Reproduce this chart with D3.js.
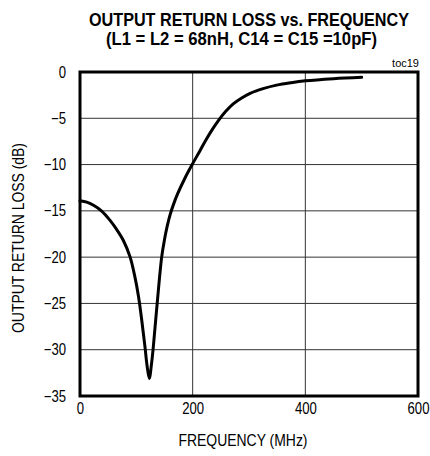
<!DOCTYPE html>
<html>
<head>
<meta charset="utf-8">
<script src="https://cdn.jsdelivr.net/npm/d3@7"></script>
<style>
  body { margin: 0; background: #fff; }
  text { font-family: 'Liberation Sans', Arial, sans-serif; fill: #000; }
</style>
</head>
<body>
<div id="chart"></div>
<script>
// Output return loss vs frequency
const freqMHz = [0, 12, 24, 38, 53, 65, 77, 89, 97, 104, 110, 115, 119, 123, 127, 130, 137, 145, 150, 155, 160, 166, 173, 186, 200, 213, 222, 235, 245, 258, 272, 287, 302, 325, 349, 375, 400, 450, 500];
const lossDb  = [-13.9, -14.05, -14.4, -15.0, -16.0, -17.0, -18.2, -20.0, -22.0, -24.3, -27.0, -29.5, -31.7, -33.1, -31.5, -29.8, -25.0, -20.0, -18.1, -16.6, -15.4, -14.3, -13.2, -11.5, -9.9, -8.5, -7.5, -6.2, -5.3, -4.3, -3.45, -2.8, -2.3, -1.8, -1.42, -1.15, -0.95, -0.72, -0.57];
const xTicks = [0, 200, 400, 600];
const yTicks = [0, -5, -10, -15, -20, -25, -30, -35];
const xGrid = [200, 400];

const W = 430, H = 456;
const margin = { top: 72, right: 12, bottom: 60, left: 80 };
const width = W - margin.left - margin.right;
const height = H - margin.top - margin.bottom;

// the reference uses a condensed face; squeeze regular glyphs instead
function narrow(sel, k = 0.82) {
    sel.each(function () {
        const len = this.getComputedTextLength();
        d3.select(this)
            .attr('textLength', len * k)
            .attr('lengthAdjust', 'spacingAndGlyphs');
    });
}

const svg = d3.select('#chart')
    .append('svg')
    .attr('width', W)
    .attr('height', H);

// titles
svg.append('text')
    .attr('x', 249).attr('y', 26)
    .attr('text-anchor', 'middle')
    .attr('font-size', 19).attr('font-weight', 'bold')
    .attr('textLength', 320).attr('lengthAdjust', 'spacingAndGlyphs')
    .text('OUTPUT RETURN LOSS vs. FREQUENCY');
svg.append('text')
    .attr('x', 241.5).attr('y', 45)
    .attr('text-anchor', 'middle')
    .attr('font-size', 18).attr('font-weight', 'bold')
    .attr('textLength', 271).attr('lengthAdjust', 'spacingAndGlyphs')
    .text('(L1 = L2 = 68nH, C14 = C15 =10pF)');

svg.append('text')
    .attr('x', 419).attr('y', 67)
    .attr('text-anchor', 'end')
    .attr('font-size', 11)
    .text('toc19');

const g = svg.append('g')
    .attr('transform', `translate(${margin.left}, ${margin.top})`);

const x = d3.scaleLinear().domain([0, 600]).range([0, width]);
const y = d3.scaleLinear().domain([-35, 0]).range([height, 0]);

// grid
g.selectAll('.hgrid')
    .data(yTicks.slice(1, -1))
    .enter().append('line')
    .attr('x1', 0).attr('x2', width)
    .attr('y1', d => y(d)).attr('y2', d => y(d))
    .attr('stroke', '#333').attr('stroke-width', 1);

g.selectAll('.vgrid')
    .data(xGrid)
    .enter().append('line')
    .attr('x1', d => x(d)).attr('x2', d => x(d))
    .attr('y1', 0).attr('y2', height)
    .attr('stroke', '#333').attr('stroke-width', 1);

// axes (labels only, frame drawn separately)
const xAxis = g.append('g')
    .attr('transform', `translate(0, ${height})`)
    .call(d3.axisBottom(x).tickValues(xTicks).tickSize(0).tickPadding(7));
const yAxis = g.append('g')
    .call(d3.axisLeft(y).tickValues(yTicks).tickSize(0).tickPadding(14));
[xAxis, yAxis].forEach(a => {
    a.select('.domain').remove();
    a.selectAll('text')
        .attr('font-size', 16).attr('fill', '#000')
        .style('font-family', "'Liberation Sans', Arial, sans-serif")
        .call(narrow);
});

// curve
const line = d3.line()
    .x((d, i) => x(freqMHz[i]))
    .y(d => y(d))
    .curve(d3.curveCatmullRom.alpha(0.5));

g.append('path')
    .datum(lossDb)
    .attr('fill', 'none')
    .attr('stroke', '#000')
    .attr('stroke-width', 3)
    .attr('stroke-linecap', 'round')
    .attr('stroke-linejoin', 'round')
    .attr('d', line);

// frame
g.append('rect')
    .attr('x', 0).attr('y', 0)
    .attr('width', width).attr('height', height)
    .attr('fill', 'none')
    .attr('stroke', '#000').attr('stroke-width', 3);

// axis titles
svg.append('text')
    .attr('x', 243).attr('y', 446)
    .attr('text-anchor', 'middle')
    .attr('font-size', 16)
    .attr('textLength', 129).attr('lengthAdjust', 'spacingAndGlyphs')
    .text('FREQUENCY (MHz)');
svg.append('text')
    .attr('transform', 'translate(24, 238) rotate(-90)')
    .attr('text-anchor', 'middle')
    .attr('font-size', 16)
    .attr('textLength', 190).attr('lengthAdjust', 'spacingAndGlyphs')
    .text('OUTPUT RETURN LOSS (dB)');
</script>
</body>
</html>
